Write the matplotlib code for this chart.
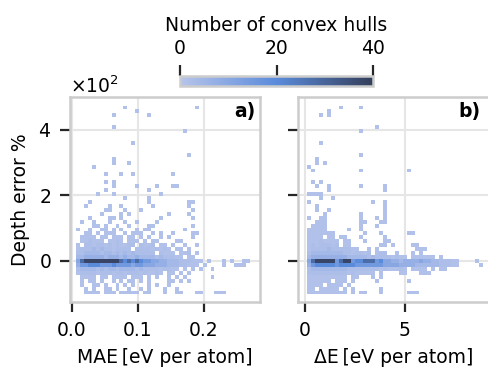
import numpy as np
import matplotlib
matplotlib.use('Agg')
import matplotlib.pyplot as plt
from matplotlib.colors import LinearSegmentedColormap, Normalize
from matplotlib.cm import ScalarMappable

plt.rcParams['font.family'] = ['DejaVu Sans']
plt.rcParams['font.size'] = 13.5

# bin edges of the two 2D histograms
mae_edges = np.arange(47) * 0.006          # MAE [eV per atom]
de_edges = 0.1 + np.arange(45) * 0.2       # dE [eV per atom]
depth_edges = -102 + np.arange(49) * 12    # depth error %

# count code -> number of convex hulls in the cell
count_code = {'.': 0, '1': 1, '2': 2, '3': 4, '4': 7, '5': 10,
              '6': 15, '7': 20, '8': 28, '9': 38}

# rows from the top bin (4.62e2..4.74e2) down, (first column, cells)
rows_mae = {
    0: (13, "1.................1"),
    1: (16, "1"),
    2: (10, "1........1"),
    5: (10, "1"),
    6: (28, "1"),
    9: (15, "1"),
    12: (29, "1"),
    13: (10, "1"),
    14: (10, "1...1"),
    15: (5, "1"),
    17: (8, "1...1..1.........1"),
    19: (8, "1.1"),
    20: (10, "1.....1....1...11"),
    21: (8, "1..........1"),
    22: (6, "1...1...........1"),
    23: (13, "1.....1"),
    24: (4, "1..............1.........11"),
    25: (0, "...1.....1..1.......1........1"),
    26: (0, "........11...1...1............1"),
    27: (0, ".......1....1.1.........1....1"),
    28: (0, "....1....11.1.........1.......1"),
    29: (0, "..1..1...1...1..1....1"),
    30: (0, ".....11.1..1..1....11.........1"),
    31: (0, ".1..1..11.1.1...1.11........1"),
    32: (0, "...11.1.111..1.111..1.1..1....11"),
    33: (0, "..1111.11.111.11.1.1..1.1.....1"),
    34: (0, "..112111.1121.111.1.11....11"),
    35: (0, ".1.2212212121122.2112.11.1..1..1"),
    36: (0, ".12223232212222.222212121.11.1"),
    37: (0, ".22333323323232322222.2111.112.1"),
    38: (0, ".334444434443433433332322211.11"),
    39: (0, ".58999999999878787665544333222111.1...1.1..11"),
    40: (0, ".4667776667666656655544433322111.1....1..111"),
    41: (0, ".23333232332333323222212211.1.1.1..1"),
    42: (0, ".1222212221221222121121.11.1.1"),
    43: (0, "..1111.11.1111.111.1.1..1.1.1......1"),
    44: (0, "..1.11.1..1.1.11.1.1....11.1.1"),
    45: (0, "..1..11.1..1.1.1...1.1..1"),
    46: (0, "...1.1..11.1..1..1.1...1..1"),
    47: (0, "...1111.111.11111.11...1..11...11...111"),
}

rows_de = {
    0: (8, "1....1"),
    1: (5, "1"),
    2: (3, "1.1"),
    5: (17, "1"),
    6: (13, "1"),
    9: (3, "1"),
    12: (13, "1"),
    13: (2, "1"),
    14: (2, "1.1"),
    15: (0, "1"),
    16: (1, "1...........1...........1"),
    19: (1, "1.1"),
    20: (2, "1..1.......1.....1"),
    21: (5, "1.............1"),
    22: (0, "1111"),
    23: (3, "1..1"),
    24: (0, "1...............1..1"),
    25: (0, "..1................1"),
    26: (0, "..1..1.............1"),
    27: (0, "....1........1.....1"),
    28: (0, "1..11........1...1.1"),
    29: (0, "..111........11...11"),
    30: (0, ".1111........1...1"),
    31: (0, "11111.....1..1"),
    32: (0, "1111111.......1...1......11"),
    33: (0, "1111.11.11...1.....1"),
    34: (0, "11121111.11...1....11"),
    35: (0, "12122212.11.......11.1....11"),
    36: (0, "1222232222211..1.1.........111"),
    37: (0, "2333333332212212.122..1...1.1"),
    38: (0, "3444444444333332322221211.111111.1"),
    39: (0, "58999996899677888675544344445443322211....1"),
    40: (0, "46777776777766666665555444433333322211.....1"),
    41: (0, "2333333333222222221211121.1111.1.11"),
    42: (0, "22222222221211111.1....11...111"),
    43: (0, "1111111111.11...1.1"),
    44: (0, "111111.111.1.....1.......1"),
    45: (0, "1111.1111.1"),
    46: (0, "11.11111.1.1......1"),
    47: (0, "1111111111.1.11...1......111"),
}


def count_grid(rows, ncols):
    g = np.zeros((48, ncols))
    for r, (start, cells) in rows.items():
        for i, ch in enumerate(cells):
            if start + i < ncols:
                g[r, start + i] = count_code[ch]
    return np.ma.masked_equal(g[::-1], 0)


cmap = LinearSegmentedColormap.from_list('hulls', ['#b6c4ea', '#5a8bdb', '#343e5a'])
norm = Normalize(vmin=0, vmax=40)

fig = plt.figure(figsize=(4.88, 3.68), dpi=100)
W, H = 488, 368
ax_a = fig.add_axes([70 / W, 1 - 302 / H, 190 / W, 205 / H])
ax_b = fig.add_axes([298 / W, 1 - 302 / H, 192 / W, 205 / H])

ax_a.pcolormesh(mae_edges, depth_edges, count_grid(rows_mae, 46), cmap=cmap, norm=norm)
ax_b.pcolormesh(de_edges, depth_edges, count_grid(rows_de, 44), cmap=cmap, norm=norm)

for ax in (ax_a, ax_b):
    ax.set_axisbelow(True)
    ax.grid(True, color='#e6e6e6', linewidth=1.5)
    for sp in ax.spines.values():
        sp.set_color('#cccccc')
        sp.set_linewidth(1.8)
    ax.tick_params(length=7.5, width=1.6, color='#262626', labelsize=13.5, pad=6)
    ax.set_ylim(-125, 500)
    ax.set_yticks([0, 200, 400])

ax_a.set_xlim(-0.003, 0.285)
ax_a.set_xticks([0.0, 0.1, 0.2])
ax_a.ticklabel_format(axis='y', style='sci', scilimits=(0, 0), useMathText=True)
ax_a.set_xlabel('MAE\u2009[eV per atom]', labelpad=6)
ax_a.set_ylabel('Depth error %', labelpad=6)

ax_b.set_xlim(-0.35, 9.25)
ax_b.set_xticks([0, 5])
ax_b.tick_params(axis='y', labelleft=False)
ax_b.set_xlabel('\u0394E\u2009[eV per atom]', labelpad=6)

ax_a.text(0.975, 0.975, 'a)', transform=ax_a.transAxes, ha='right', va='top',
          fontweight='bold', fontsize=13.5)
ax_b.text(0.95, 0.975, 'b)', transform=ax_b.transAxes, ha='right', va='top',
          fontweight='bold', fontsize=13.5)

cax = fig.add_axes([180 / W, 1 - 86 / H, 193 / W, 10 / H])
cb = fig.colorbar(ScalarMappable(norm=norm, cmap=cmap), cax=cax,
                  orientation='horizontal', ticks=[0, 20, 40])
cax.xaxis.set_ticks_position('top')
cax.xaxis.set_label_position('top')
cax.tick_params(length=8, width=1.6, color='#262626', labelsize=13.5, pad=5)
cb.set_label('Number of convex hulls', fontsize=13.5, labelpad=6)
cb.outline.set_edgecolor('#cccccc')
cb.outline.set_linewidth(1.8)

fig.savefig('out.png', dpi=100)
